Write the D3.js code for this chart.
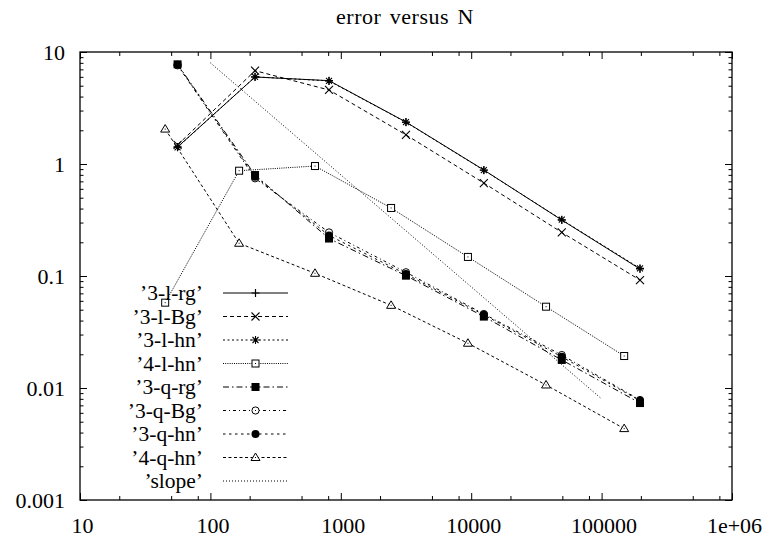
<!DOCTYPE html>
<html>
<head>
<meta charset="utf-8">
<script src="https://cdn.jsdelivr.net/npm/d3@7"></script>
<style>
  body { margin: 0; background: #fff; }
</style>
</head>
<body>
<div class="chart"></div>
<script>
// N values (mesh sizes)
var n3 = [56, 220, 812, 3160, 12500, 49500, 197000];
var n4 = [45, 166, 634, 2430, 9440, 37500, 149000];

// errors per series
var err3lrg = [1.42, 5.98, 5.55, 2.37, 0.884, 0.316, 0.1155];
var err3lBg = [1.48, 6.81, 4.58, 1.82, 0.676, 0.245, 0.092];
var err3lhn = [1.41, 6.0, 5.52, 2.36, 0.88, 0.318, 0.117];
var err4lhn = [0.0578, 0.871, 0.959, 0.405, 0.148, 0.0532, 0.0193];
var err3qrg = [7.76, 0.797, 0.216, 0.1007, 0.0434, 0.0178, 0.00734];
var err3qBg = [7.6, 0.745, 0.245, 0.108, 0.0458, 0.0197, 0.00782];
var err3qhn = [7.7, 0.77, 0.23, 0.104, 0.045, 0.019, 0.0077];
var err4qhn = [2.05, 0.196, 0.1057, 0.0547, 0.0251, 0.01064, 0.00434];
var slopeN = [100, 100000];
var slopeErr = [8, 0.008];

var xTicks = [10, 100, 1000, 10000, 100000, 1000000];
var xTickLabels = ['10', '100', '1000', '10000', '100000', '1e+06'];
var yTicks = [0.001, 0.01, 0.1, 1, 10];
var yTickLabels = ['0.001', '0.01', '0.1', '1', '10'];

var series = [
    { label: "'3-l-rg'", n: n3, err: err3lrg, dash: null, mark: 'plus' },
    { label: "'3-l-Bg'", n: n3, err: err3lBg, dash: '4,3', mark: 'cross' },
    { label: "'3-l-hn'", n: n3, err: err3lhn, dash: '2,2.5', mark: 'star' },
    { label: "'4-l-hn'", n: n4, err: err4lhn, dash: '1,1.2', mark: 'box' },
    { label: "'3-q-rg'", n: n3, err: err3qrg, dash: '6,3,1.5,3', mark: 'fbox' },
    { label: "'3-q-Bg'", n: n3, err: err3qBg, dash: '3,3,1,3', mark: 'circle' },
    { label: "'3-q-hn'", n: n3, err: err3qhn, dash: '2.5,3.5', mark: 'fcircle' },
    { label: "'4-q-hn'", n: n4, err: err4qhn, dash: '3,2.5', mark: 'tri' },
    { label: "'slope'", n: slopeN, err: slopeErr, dash: '1,2', mark: null }
];

var width = 769, height = 540;
var margin = { left: 80, right: 37, top: 52, bottom: 40 };
var FONT = 'Liberation Serif';

var svg = d3.select('.chart').append('svg')
    .attr('width', width)
    .attr('height', height);

var x = d3.scaleLog().domain([10, 1e6]).range([margin.left, width - margin.right]);
var y = d3.scaleLog().domain([0.001, 10]).range([height - margin.bottom, margin.top]);

// minor ticks: x at 2,5,8 per decade, y at 2..9
var xMinor = [], yMinor = [];
xTicks.slice(0, -1).forEach(function(t) {
    [2, 5, 8].forEach(function(m) { xMinor.push(t * m); });
});
yTicks.slice(0, -1).forEach(function(t) {
    for (var m = 2; m < 10; m++) yMinor.push(t * m);
});

function axisGroup(axis, tx, ty) {
    var g = svg.append('g')
        .attr('transform', 'translate(' + tx + ',' + ty + ')')
        .call(axis)
        .attr('font-family', FONT)
        .attr('font-size', 22);
    g.select('.domain').remove();
    g.selectAll('line').attr('stroke', '#000').attr('stroke-width', 1);
    g.selectAll('text').attr('fill', '#000');
    return g;
}

var bottom = height - margin.bottom, right = width - margin.right;

axisGroup(d3.axisBottom(x).tickValues(xTicks).tickSize(-7).tickPadding(17)
    .tickFormat(function(d, i) { return xTickLabels[i]; }), 0, bottom)
    .selectAll('text').attr('dx', 2);
axisGroup(d3.axisBottom(x).tickValues(xMinor).tickSize(-4).tickFormat(''), 0, bottom);
axisGroup(d3.axisTop(x).tickValues(xTicks).tickSize(-7).tickFormat(''), 0, margin.top);
axisGroup(d3.axisTop(x).tickValues(xMinor).tickSize(-4).tickFormat(''), 0, margin.top);

axisGroup(d3.axisLeft(y).tickValues(yTicks).tickSize(-7).tickPadding(15)
    .tickFormat(function(d, i) { return yTickLabels[i]; }), margin.left, 0);
axisGroup(d3.axisLeft(y).tickValues(yMinor).tickSize(-3.5).tickFormat(''), margin.left, 0);
axisGroup(d3.axisRight(y).tickValues(yTicks).tickSize(-7).tickFormat(''), right, 0);
axisGroup(d3.axisRight(y).tickValues(yMinor).tickSize(-3.5).tickFormat(''), right, 0);

// border
svg.append('rect')
    .attr('x', margin.left).attr('y', margin.top)
    .attr('width', right - margin.left).attr('height', bottom - margin.top)
    .attr('fill', 'none').attr('stroke', '#000').attr('stroke-width', 1.3);

// title
svg.append('text')
    .attr('x', (margin.left + right) / 2 - 1)
    .attr('y', 24)
    .attr('text-anchor', 'middle')
    .attr('font-family', FONT)
    .attr('font-size', 22)
    .attr('word-spacing', 2.5)
    .attr('letter-spacing', 0.5)
    .text('error versus N');

function drawMark(g, type, cx, cy) {
    var s = 4;
    if (type === 'plus') {
        g.append('path').attr('d', 'M' + (cx - s) + ',' + cy + 'H' + (cx + s) + 'M' + cx + ',' + (cy - s) + 'V' + (cy + s))
            .attr('stroke', '#000').attr('stroke-width', 1.2);
    } else if (type === 'cross') {
        g.append('path').attr('d', 'M' + (cx - s) + ',' + (cy - s) + 'L' + (cx + s) + ',' + (cy + s) +
            'M' + (cx - s) + ',' + (cy + s) + 'L' + (cx + s) + ',' + (cy - s))
            .attr('stroke', '#000').attr('stroke-width', 1.1);
    } else if (type === 'star') {
        var t = 3;
        g.append('path').attr('d', 'M' + (cx - s) + ',' + cy + 'H' + (cx + s) + 'M' + cx + ',' + (cy - s) + 'V' + (cy + s) +
            'M' + (cx - t) + ',' + (cy - t) + 'L' + (cx + t) + ',' + (cy + t) +
            'M' + (cx - t) + ',' + (cy + t) + 'L' + (cx + t) + ',' + (cy - t))
            .attr('stroke', '#000').attr('stroke-width', 1.1);
    } else if (type === 'box') {
        g.append('rect').attr('x', cx - 3.5).attr('y', cy - 3.5).attr('width', 7).attr('height', 7)
            .attr('fill', '#fff').attr('stroke', '#000').attr('stroke-width', 1);
        g.append('rect').attr('x', cx - 0.5).attr('y', cy - 0.5).attr('width', 1).attr('height', 1).attr('fill', '#000');
    } else if (type === 'fbox') {
        g.append('rect').attr('x', cx - 4).attr('y', cy - 4).attr('width', 8).attr('height', 8).attr('fill', '#000');
    } else if (type === 'circle') {
        g.append('circle').attr('cx', cx).attr('cy', cy).attr('r', 3.6)
            .attr('fill', '#fff').attr('stroke', '#000').attr('stroke-width', 1);
        g.append('rect').attr('x', cx - 0.5).attr('y', cy - 0.5).attr('width', 1).attr('height', 1).attr('fill', '#000');
    } else if (type === 'fcircle') {
        g.append('circle').attr('cx', cx).attr('cy', cy).attr('r', 4).attr('fill', '#000');
    } else if (type === 'tri') {
        g.append('path').attr('d', 'M' + cx + ',' + (cy - 4.5) + 'L' + (cx + 4.5) + ',' + (cy + 3) + 'L' + (cx - 4.5) + ',' + (cy + 3) + 'Z')
            .attr('fill', '#fff').attr('stroke', '#000').attr('stroke-width', 1);
        g.append('rect').attr('x', cx - 0.5).attr('y', cy - 0.5).attr('width', 1).attr('height', 1).attr('fill', '#000');
    }
}

var line = d3.line()
    .x(function(d) { return x(d[0]); })
    .y(function(d) { return y(d[1]); });

var plot = svg.append('g').attr('class', 'series');

series.forEach(function(s) {
    var pts = s.n.map(function(v, i) { return [v, s.err[i]]; });
    var g = plot.append('g');
    g.append('path')
        .attr('d', line(pts))
        .attr('fill', 'none')
        .attr('stroke', '#000')
        .attr('stroke-width', 1)
        .attr('stroke-dasharray', s.dash);
    if (s.mark) {
        pts.forEach(function(p) { drawMark(g, s.mark, x(p[0]), y(p[1])); });
    }
});

// legend
var legend = svg.append('g').attr('class', 'legend');
series.forEach(function(s, i) {
    var cy = 293 + i * 23.5;
    legend.append('text')
        .attr('x', 203).attr('y', cy + 7)
        .attr('text-anchor', 'end')
        .attr('font-family', FONT)
        .attr('font-size', 21.5)
        .text(s.label.replace(/'/g, '\u2019'));
    legend.append('line')
        .attr('x1', 223).attr('x2', 288).attr('y1', cy).attr('y2', cy)
        .attr('stroke', '#000').attr('stroke-width', 1)
        .attr('stroke-dasharray', s.dash);
    if (s.mark) drawMark(legend, s.mark, 255.5, cy);
});
</script>
</body>
</html>
